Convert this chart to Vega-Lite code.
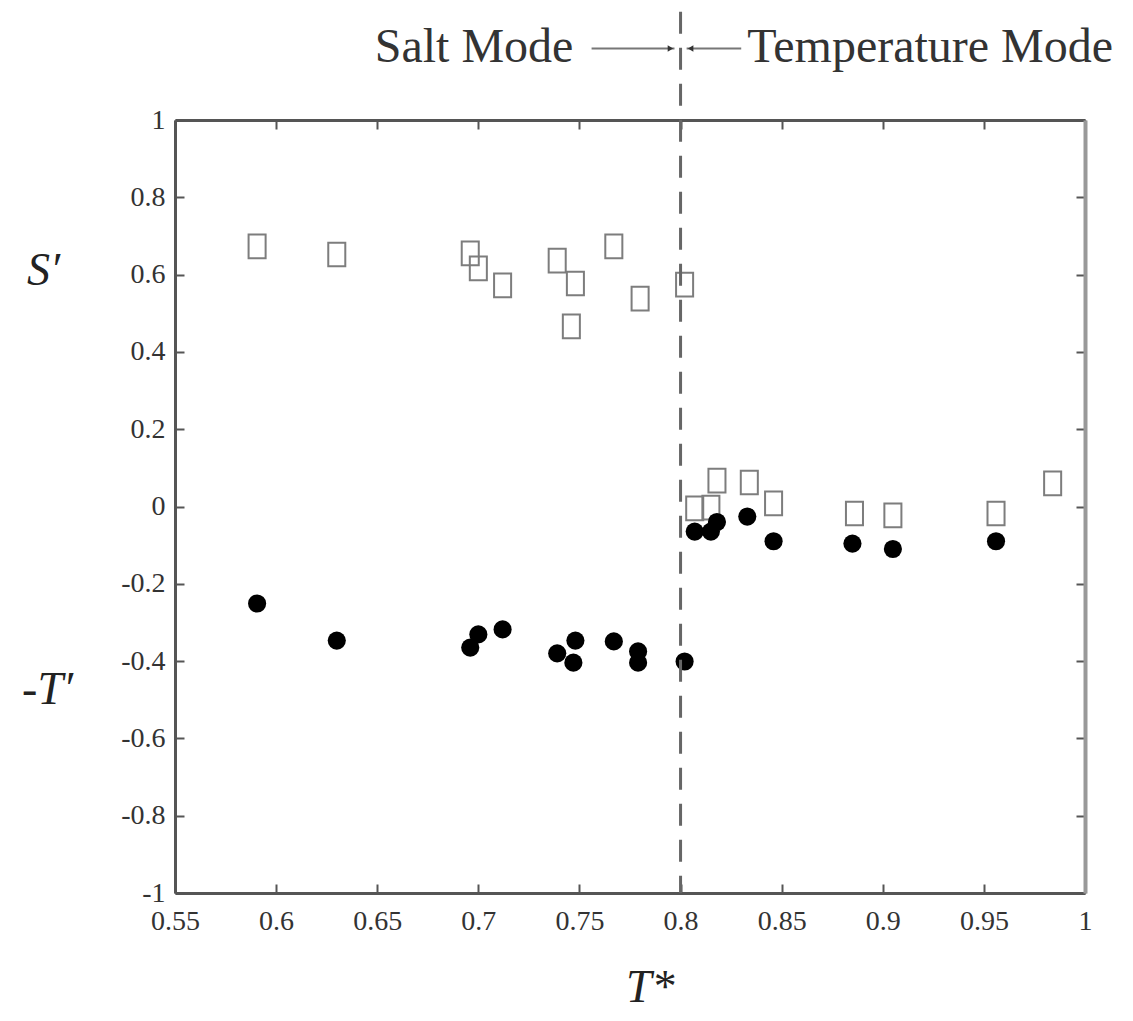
{
  "$schema": "https://vega.github.io/schema/vega-lite/v6.json",
  "width": 910,
  "height": 773,
  "autosize": "none",
  "padding": {"left": 175, "top": 120, "right": 48, "bottom": 128},
  "background": "white",
  "config": {
    "view": {"stroke": null},
    "font": "Liberation Serif",
    "axis": {
      "labelFont": "Liberation Serif",
      "labelFontSize": 28,
      "labelColor": "#333",
      "domainColor": "#555",
      "domainWidth": 3,
      "tickColor": "#555",
      "tickWidth": 2,
      "tickSize": -9,
      "grid": false,
      "title": null
    }
  },
  "datasets": {
    "squares": [
      {"T": 0.5906, "v": 0.673},
      {"T": 0.630, "v": 0.652},
      {"T": 0.696, "v": 0.655},
      {"T": 0.700, "v": 0.616},
      {"T": 0.712, "v": 0.572},
      {"T": 0.739, "v": 0.636},
      {"T": 0.748, "v": 0.577},
      {"T": 0.746, "v": 0.466},
      {"T": 0.767, "v": 0.673},
      {"T": 0.780, "v": 0.538},
      {"T": 0.802, "v": 0.574},
      {"T": 0.807, "v": -0.005},
      {"T": 0.815, "v": -0.003},
      {"T": 0.818, "v": 0.067},
      {"T": 0.834, "v": 0.062},
      {"T": 0.846, "v": 0.008},
      {"T": 0.886, "v": -0.018},
      {"T": 0.905, "v": -0.023},
      {"T": 0.956, "v": -0.018},
      {"T": 0.984, "v": 0.060}
    ],
    "circles": [
      {"T": 0.5906, "v": -0.251},
      {"T": 0.630, "v": -0.347},
      {"T": 0.696, "v": -0.365},
      {"T": 0.700, "v": -0.331},
      {"T": 0.712, "v": -0.318},
      {"T": 0.739, "v": -0.380},
      {"T": 0.748, "v": -0.347},
      {"T": 0.747, "v": -0.404},
      {"T": 0.767, "v": -0.349},
      {"T": 0.779, "v": -0.375},
      {"T": 0.779, "v": -0.404},
      {"T": 0.802, "v": -0.401},
      {"T": 0.807, "v": -0.065},
      {"T": 0.815, "v": -0.065},
      {"T": 0.818, "v": -0.040},
      {"T": 0.833, "v": -0.026},
      {"T": 0.846, "v": -0.090},
      {"T": 0.885, "v": -0.096},
      {"T": 0.905, "v": -0.110},
      {"T": 0.956, "v": -0.090}
    ],
    "divider": [{"T": 0.8, "top": 1.28, "bottom": -1}],
    "legendLines": [
      {"a": 0.756, "b": 0.797, "v": 1.185},
      {"a": 0.803, "b": 0.830, "v": 1.185}
    ],
    "legendLeft": [{"T": 0.747, "v": 1.185, "label": "Salt Mode"}],
    "legendRight": [{"T": 0.833, "v": 1.185, "label": "Temperature Mode"}],
    "arrowR": [{"T": 0.795, "v": 1.185}],
    "arrowL": [{"T": 0.805, "v": 1.185}],
    "titles": [
      {"T": 0.485, "v": 0.61, "label": "S′"},
      {"T": 0.487, "v": -0.476, "label": "-T′"},
      {"T": 0.785, "v": -1.245, "label": "T*"}
    ]
  },
  "resolve": {"axis": {"x": "independent", "y": "independent"}},
  "layer": [
    {
      "data": {"name": "squares"},
      "mark": {"type": "point", "shape": "M-0.72,-1L0.72,-1L0.72,1L-0.72,1Z", "filled": false, "stroke": "#7d7d7d", "strokeWidth": 2, "size": 560, "opacity": 1},
      "encoding": {
        "x": {"field": "T", "type": "quantitative", "scale": {"domain": [0.55, 1], "nice": false, "zero": false},
          "axis": {"orient": "bottom", "values": [0.55, 0.6, 0.65, 0.7, 0.75, 0.8, 0.85, 0.9, 0.95, 1], "labelExpr": "format(datum.value, '~g')", "labelPadding": 23, "labelFlush": false}},
        "y": {"field": "v", "type": "quantitative", "scale": {"domain": [-1, 1], "nice": false, "zero": false},
          "axis": {"orient": "left", "values": [-1, -0.8, -0.6, -0.4, -0.2, 0, 0.2, 0.4, 0.6, 0.8, 1], "labelExpr": "replace(format(datum.value, '~g'), '\u2212', '-')", "labelPadding": 19, "labelFlush": false}}
      }
    },
    {
      "data": {"name": "circles"},
      "mark": {"type": "point", "shape": "circle", "filled": true, "color": "#000", "size": 330, "opacity": 1},
      "encoding": {
        "x": {"field": "T", "type": "quantitative", "scale": {"domain": [0.55, 1], "nice": false, "zero": false},
          "axis": {"orient": "top", "values": [0.55, 0.6, 0.65, 0.7, 0.75, 0.8, 0.85, 0.9, 0.95, 1], "labels": false}},
        "y": {"field": "v", "type": "quantitative", "scale": {"domain": [-1, 1], "nice": false, "zero": false},
          "axis": {"orient": "right", "values": [-1, -0.8, -0.6, -0.4, -0.2, 0, 0.2, 0.4, 0.6, 0.8, 1], "labels": false, "domainColor": "#999", "domainWidth": 4}}
      }
    },
    {
      "data": {"name": "divider"},
      "mark": {"type": "rule", "stroke": "#666", "strokeWidth": 3, "strokeDash": [22, 14]},
      "encoding": {
        "x": {"field": "T", "type": "quantitative", "axis": null},
        "y": {"field": "top", "type": "quantitative", "axis": null},
        "y2": {"field": "bottom"}
      }
    },
    {
      "data": {"name": "legendLines"},
      "mark": {"type": "rule", "stroke": "#777", "strokeWidth": 2},
      "encoding": {
        "x": {"field": "a", "type": "quantitative", "axis": null},
        "x2": {"field": "b"},
        "y": {"field": "v", "type": "quantitative", "axis": null}
      }
    },
    {
      "data": {"name": "arrowR"},
      "mark": {"type": "point", "shape": "triangle-right", "filled": true, "color": "#333", "size": 40, "opacity": 1},
      "encoding": {
        "x": {"field": "T", "type": "quantitative", "axis": null},
        "y": {"field": "v", "type": "quantitative", "axis": null}
      }
    },
    {
      "data": {"name": "arrowL"},
      "mark": {"type": "point", "shape": "triangle-left", "filled": true, "color": "#333", "size": 40, "opacity": 1},
      "encoding": {
        "x": {"field": "T", "type": "quantitative", "axis": null},
        "y": {"field": "v", "type": "quantitative", "axis": null}
      }
    },
    {
      "data": {"name": "legendLeft"},
      "mark": {"type": "text", "align": "right", "baseline": "middle", "font": "Liberation Serif", "fontSize": 48, "color": "#333"},
      "encoding": {
        "x": {"field": "T", "type": "quantitative", "axis": null},
        "y": {"field": "v", "type": "quantitative", "axis": null},
        "text": {"field": "label"}
      }
    },
    {
      "data": {"name": "legendRight"},
      "mark": {"type": "text", "align": "left", "baseline": "middle", "font": "Liberation Serif", "fontSize": 48, "color": "#333"},
      "encoding": {
        "x": {"field": "T", "type": "quantitative", "axis": null},
        "y": {"field": "v", "type": "quantitative", "axis": null},
        "text": {"field": "label"}
      }
    },
    {
      "data": {"name": "titles"},
      "mark": {"type": "text", "align": "center", "baseline": "middle", "font": "Liberation Serif", "fontStyle": "italic", "fontSize": 46, "color": "#222"},
      "encoding": {
        "x": {"field": "T", "type": "quantitative", "axis": null},
        "y": {"field": "v", "type": "quantitative", "axis": null},
        "text": {"field": "label"}
      }
    }
  ]
}
